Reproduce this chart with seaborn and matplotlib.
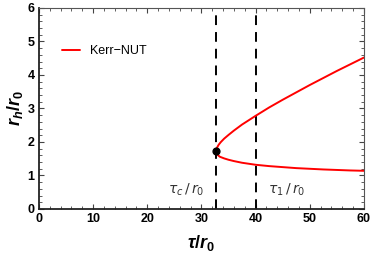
import numpy as np
import pandas as pd
import matplotlib
matplotlib.use("Agg")
import matplotlib.pyplot as plt
from matplotlib.ticker import MultipleLocator
import seaborn as sns

# Values
tau_upper = [32.7, 32.72, 32.8, 32.95, 33.2, 33.6, 34.2, 35.0, 36.0, 37.5,
             40.0, 42.5, 45.0, 47.5, 50.0, 52.5, 55.0, 57.5, 60.0]
r_upper = [1.72, 1.754, 1.80, 1.85, 1.92, 2.00, 2.10, 2.21, 2.34, 2.52,
           2.78, 3.03, 3.26, 3.48, 3.70, 3.91, 4.12, 4.32, 4.52]
tau_lower = [32.7, 32.72, 32.8, 32.95, 33.1, 33.4, 34.2, 35.0, 36.0, 37.5,
             40.0, 42.5, 45.0, 47.5, 50.0, 52.5, 55.0, 57.5, 60.0]
r_lower = [1.72, 1.69, 1.66, 1.63, 1.60, 1.56, 1.51, 1.47, 1.43, 1.38,
           1.32, 1.28, 1.25, 1.22, 1.20, 1.18, 1.165, 1.15, 1.14]
tau_c = 32.7
r_c = 1.72
tau_1 = 40.0

sns.set_style("ticks")
plt.rcParams["font.family"] = ["Liberation Sans", "DejaVu Sans"]
plt.rcParams["mathtext.fontset"] = "custom"
plt.rcParams["mathtext.it"] = "Liberation Sans:italic:bold"
plt.rcParams["mathtext.rm"] = "Liberation Sans:bold"
plt.rcParams["mathtext.bf"] = "Liberation Sans:bold"
plt.rcParams["text.color"] = "black"
plt.rcParams["axes.labelcolor"] = "black"
plt.rcParams["xtick.color"] = "black"
plt.rcParams["ytick.color"] = "black"

df = pd.DataFrame({
    "tau": tau_upper[::-1] + tau_lower,
    "r": r_upper[::-1] + r_lower,
})

fig = plt.figure(figsize=(3.74, 2.58), dpi=100)
ax = fig.add_axes([0.104, 0.19, 0.869, 0.779])

sns.lineplot(data=df, x="tau", y="r", sort=False, estimator=None,
             color="#ff0000", lw=1.4, ax=ax, label="Kerr\u2212NUT")

for xv in (tau_c, tau_1):
    ax.axvline(xv, color="black", lw=1.4, linestyle=(0, (5.0, 3.6)), zorder=1)

ax.scatter([tau_c], [r_c], s=24, color="black", zorder=5)

ax.text(27.2, 0.57, r"$\tau_c\,/\,r_0$", fontsize=10, ha="center", va="center",
        color="#333333", math_fontfamily="dejavusans")
ax.text(45.8, 0.57, r"$\tau_1\,/\,r_0$", fontsize=10, ha="center", va="center",
        color="#333333", math_fontfamily="dejavusans")

ax.set_xlim(0, 60)
ax.set_ylim(0, 6)
ax.xaxis.set_major_locator(MultipleLocator(10))
ax.xaxis.set_minor_locator(MultipleLocator(2))
ax.yaxis.set_major_locator(MultipleLocator(1))
ax.yaxis.set_minor_locator(MultipleLocator(0.2))
ax.tick_params(which="both", direction="in", top=True, right=True,
               labeltop=False, labelright=False, color="#444444")
ax.tick_params(which="major", length=3.5, width=0.8, labelsize=9, pad=3,
               labelcolor="black")
ax.tick_params(which="minor", length=2, width=0.6)
for lab in ax.get_xticklabels() + ax.get_yticklabels():
    lab.set_fontweight("bold")

for side in ("left", "bottom"):
    ax.spines[side].set_linewidth(1.3)
    ax.spines[side].set_color("#222222")
for side in ("top", "right"):
    ax.spines[side].set_linewidth(0.8)
    ax.spines[side].set_color("#555555")
    ax.spines[side].set_visible(True)

ax.set_xlabel(r"$\tau/r_0$", fontsize=13, labelpad=6)
ax.set_ylabel(r"$r_h/r_0$", fontsize=13, labelpad=2)

leg = ax.legend(loc="upper left", bbox_to_anchor=(0.035, 0.87), frameon=False,
                fontsize=9, handlelength=1.5, handletextpad=0.8)

fig.savefig("out.png", dpi=100)
